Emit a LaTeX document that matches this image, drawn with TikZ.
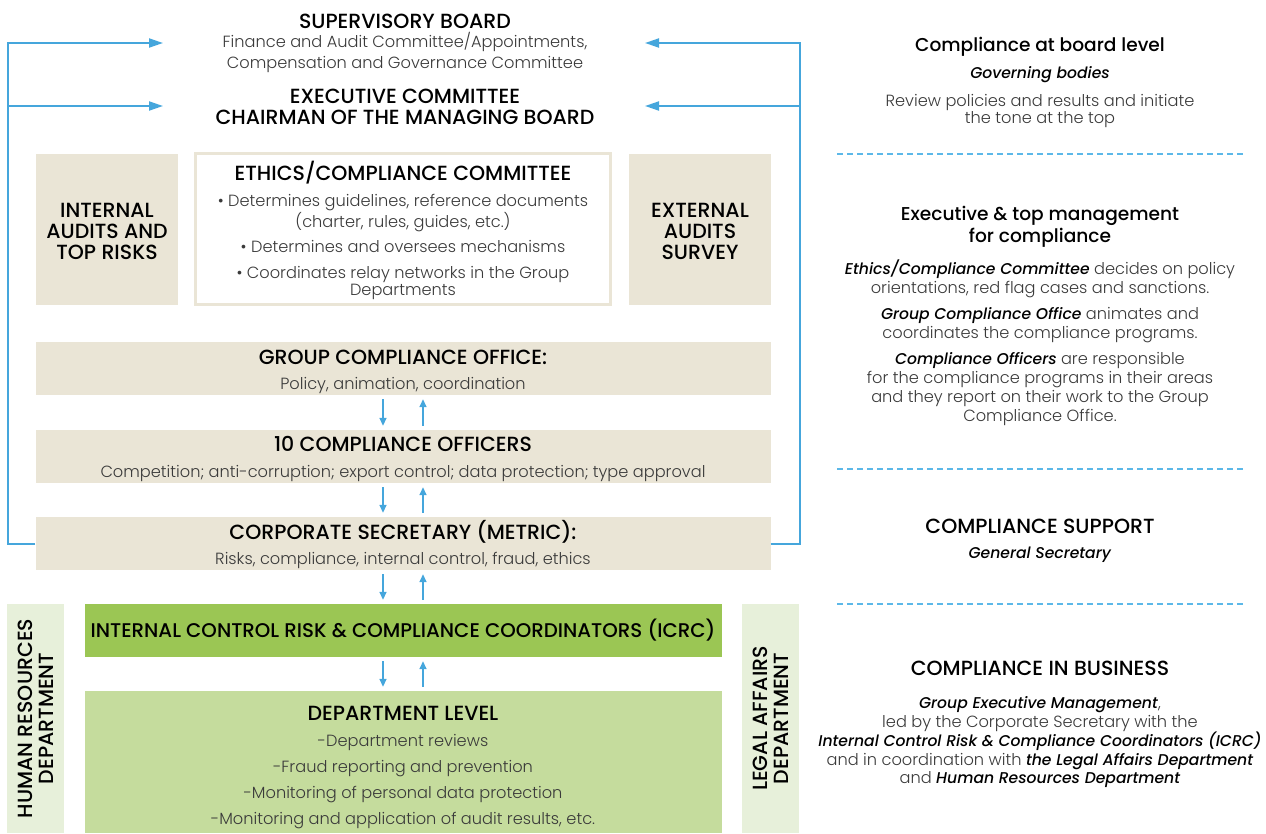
\documentclass[tikz,border=0pt]{standalone}
\usepackage{fontspec}
\setmainfont{Poppins Light}[BoldFont={Poppins Medium},ItalicFont={Poppins Light Italic},BoldItalicFont={Poppins Medium Italic}]
\usepackage{tikz}
\usetikzlibrary{arrows.meta,positioning}

\definecolor{linkblue}{HTML}{45A6DC}
\definecolor{dashblue}{HTML}{5CB8E8}
\definecolor{beige}{HTML}{EAE5D6}
\definecolor{icrcgreen}{HTML}{9BC654}
\definecolor{depgreen}{HTML}{C5DC9D}
\definecolor{palegreen}{HTML}{E7F0DA}
\definecolor{bodygray}{HTML}{3A3A3A}

\newcommand{\hdfont}{\fontsize{20.5}{21}\selectfont\bfseries}
\newcommand{\bdfont}{\fontsize{16.2}{21}\selectfont}
\newcommand{\strongit}[1]{{\fontsize{15.6}{19}\selectfont\color{black}\textbf{\textit{#1}}}}

\begin{document}
\begin{tikzpicture}[x=1pt, y=-1pt, >=Stealth,
    head/.style={font=\hdfont, text=black, align=center, inner sep=0pt},
    body/.style={font=\bdfont, text=bodygray, align=center, inner sep=0pt},
    sidebox/.style={fill=beige, minimum width=142pt, minimum height=151pt, inner sep=0pt},
    stackbox/.style={fill=beige, minimum width=735pt, minimum height=53pt, inner sep=0pt},
    greenbox/.style={minimum width=637pt, inner sep=0pt, align=center},
    palebox/.style={fill=palegreen, minimum width=229pt, minimum height=57pt, inner sep=0pt, font=\hdfont, align=center},
    link/.style={draw=linkblue, line width=2pt, -{Triangle[length=14pt,width=9pt]}},
    updown/.style={draw=linkblue, line width=1.6pt, -{Triangle[length=8pt,width=7pt]}, shorten <=4pt, shorten >=4pt},
    divider/.style={draw=dashblue, line width=2pt, dash pattern=on 6pt off 4pt}]
    \useasboundingbox (0,0) rectangle (1266,833);

    % Governing bodies
    \node[head] (board) at (405,21.5) {SUPERVISORY BOARD};
    \node[body] (boardsub) at (405,52) {Finance and Audit Committee/Appointments,\\Compensation and Governance Committee};
    \node[head] (exec) at (405,106.5) {EXECUTIVE COMMITTEE\\CHAIRMAN OF THE MANAGING BOARD};

    % Audits and ethics committee
    \node[sidebox] (iatr) at (107,229.5) {};
    \node[head] (iatrtext) at (107,231.5) {INTERNAL\\AUDITS AND\\TOP RISKS};
    \node[draw=beige, line width=3pt, minimum width=415pt, minimum height=151pt, inner sep=0pt] (ecc) at (403,229) {};
    \node[head] (ecctitle) at (403,173) {ETHICS/COMPLIANCE COMMITTEE};
    \node[body, font=\fontsize{16.2}{17.5}\selectfont] (eccbody) at (403,247) {%
        • Determines guidelines, reference documents\\(charter, rules, guides, etc.)\\[8pt]
        • Determines and oversees mechanisms\\[8pt]
        • Coordinates relay networks in the Group\\Departments};
    \node[sidebox] (eas) at (700,229.5) {};
    \node[head] (eastext) at (700,231.5) {EXTERNAL\\AUDITS\\SURVEY};

    % Compliance chain
    \node[stackbox] (gco) at (403,368.5) {};
    \node[head] (gcotitle) at (403,357) {GROUP COMPLIANCE OFFICE:};
    \node[body] (gcosub) at (403,385) {Policy, animation, coordination};
    \node[stackbox] (cof) at (403,456.5) {};
    \node[head] (coftitle) at (403,444) {10 COMPLIANCE OFFICERS};
    \node[body] (cofsub) at (403,473) {Competition; anti-corruption; export control; data protection; type approval};
    \node[stackbox] (csec) at (403,543.5) {};
    \node[head] (csectitle) at (403,532) {CORPORATE SECRETARY (METRIC):};
    \node[body] (csecsub) at (403,560) {Risks, compliance, internal control, fraud, ethics};
    \node[greenbox, fill=icrcgreen, minimum height=53pt, font=\fontsize{19.8}{21}\selectfont\bfseries] (icrc) at (403,630.5) {INTERNAL CONTROL RISK \& COMPLIANCE COORDINATORS (ICRC)};
    \node[greenbox, fill=depgreen, minimum height=142pt] (dep) at (403,762) {};
    \node[head] (deptitle) at (403,713.5) {DEPARTMENT LEVEL};
    \node[body, font=\fontsize{16.2}{26}\selectfont] (depbody) at (403,782) {%
        -Department reviews\\
        -Fraud reporting and prevention\\
        -Monitoring of personal data protection\\
        -Monitoring and application of audit results, etc.};

    % Side departments
    \node[palebox, rotate=90] (hr) at (35.5,718.5) {HUMAN RESOURCES\\DEPARTMENT};
    \node[palebox, rotate=90] (legal) at (770.5,718.5) {LEGAL AFFAIRS\\DEPARTMENT};

    % Reporting lines to the board
    \coordinate (ltop) at (8,43);
    \coordinate (lin1) at (163,43);
    \coordinate (lin2) at (163,106);
    \coordinate (rtop) at (800,43);
    \coordinate (rin1) at (645,43);
    \coordinate (rin2) at (645,106);
    \draw[link] (csec.west) -| (ltop) -- (lin1);
    \draw[link] (ltop |- lin2) -- (lin2);
    \draw[link] (csec.east) -| (rtop) -- (rin1);
    \draw[link] (rtop |- rin2) -- (rin2);

    % Up and down arrows
    \foreach \a/\b in {gco/cof, cof/csec, csec/icrc, icrc/dep} {
        \draw[updown] ([xshift=-20pt]\a.south) -- ([xshift=-20pt]\b.north);
        \draw[updown] ([xshift=20pt]\b.north) -- ([xshift=20pt]\a.south);
    }

    % Right column
    \node[head, font=\fontsize{18.6}{22}\selectfont\bfseries] (rboard) at (1040,47) {Compliance at board level};
    \node[body] (rboardsub) at (1040,74.5) {\strongit{Governing bodies}};
    \node[body, font=\fontsize{16.2}{17.5}\selectfont] (rboardtxt) at (1040,111) {Review policies and results and initiate\\the tone at the top};
    \coordinate (d1l) at (837,154);
    \coordinate (d1r) at (1244,154);
    \draw[divider] (d1l) -- (d1r);

    \node[head, font=\fontsize{18.6}{22}\selectfont\bfseries] (rexec) at (1040,227) {Executive \& top management\\for compliance};
    \node[body, font=\fontsize{16.2}{19}\selectfont] (rexectxt) at (1040,342.5) {%
        \strongit{Ethics/Compliance Committee} decides on policy\\orientations, red flag cases and sanctions.\\[7pt]
        \strongit{Group Compliance Office} animates and\\coordinates the compliance programs.\\[7pt]
        \strongit{Compliance Officers} are responsible\\for the compliance programs in their areas\\and they report on their work to the Group\\Compliance Office.};
    \coordinate (d2l) at (837,469);
    \coordinate (d2r) at (1244,469);
    \draw[divider] (d2l) -- (d2r);

    \node[head] (rsupport) at (1040,526) {COMPLIANCE SUPPORT};
    \node[body] (rsupportsub) at (1040,554.5) {\strongit{General Secretary}};
    \coordinate (d3l) at (837,604);
    \coordinate (d3r) at (1244,604);
    \draw[divider] (d3l) -- (d3r);

    \node[head] (rbusiness) at (1040,668) {COMPLIANCE IN BUSINESS};
    \node[body, font=\fontsize{16.2}{18.75}\selectfont] (rbusinesstxt) at (1040,742.5) {%
        \strongit{Group Executive Management},\\
        led by the Corporate Secretary with the\\
        \strongit{Internal Control Risk \& Compliance Coordinators (ICRC)}\\
        and in coordination with \strongit{the Legal Affairs Department}\\
        and \strongit{Human Resources Department}};
\end{tikzpicture}
\end{document}
